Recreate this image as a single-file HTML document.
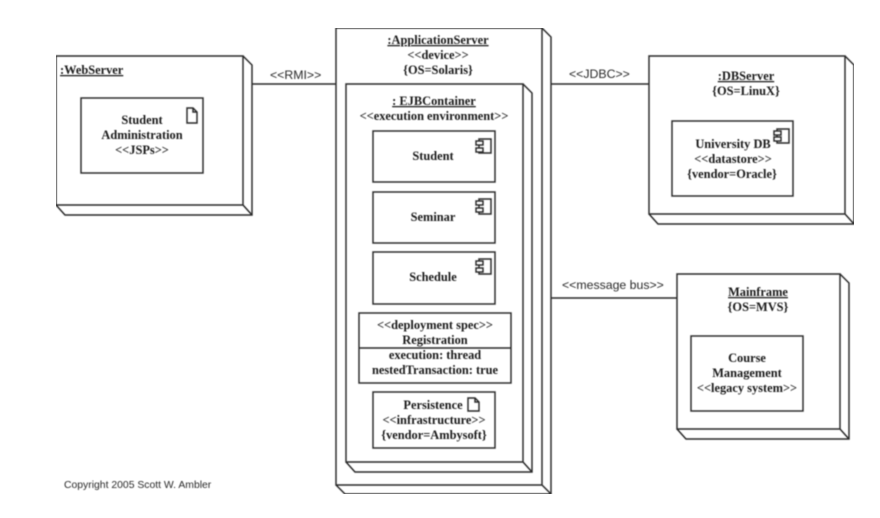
<!DOCTYPE html>
<html><head><meta charset="utf-8"><style>
html,body{margin:0;padding:0;background:#fff;width:880px;height:518px;overflow:hidden}
svg{display:block}
.s{fill:none;stroke:#2a2a2a;stroke-width:1.45}
.t{font-family:"Liberation Serif",serif;font-weight:bold;font-size:12.4px;fill:#1a1a1a;text-anchor:middle}
.a{font-family:"Liberation Sans",sans-serif;font-size:12.3px;fill:#2a2a2a}
</style></head><body>
<svg width="880" height="518" viewBox="0 0 880 518" xmlns="http://www.w3.org/2000/svg">
<defs><filter id="b" x="0" y="0" width="100%" height="100%"><feGaussianBlur stdDeviation="0.4"/></filter></defs>
<g filter="url(#b)">
<!-- connectors -->
<path class="s" d="M252 84H336M551 84H649M551 298H677"/>
<text class="a" x="270" y="79">&lt;&lt;RMI&gt;&gt;</text>
<text class="a" x="569" y="78">&lt;&lt;JDBC&gt;&gt;</text>
<text class="a" x="562" y="289">&lt;&lt;message bus&gt;&gt;</text>

<!-- WebServer -->
<path class="s" d="M56 56H243V205H56ZM243 56L252 65V215H65L56 205M243 205L252 215"/>
<text class="t" x="60" y="74" style="text-anchor:start;text-decoration:underline">:WebServer</text>
<rect class="s" x="81" y="98" width="122" height="75"/>
<path class="s" d="M187 108H193L197 112V123H187ZM193 108V112H197"/>
<text class="t" x="142" y="124">Student</text>
<text class="t" x="142" y="139">Administration</text>
<text class="t" x="142" y="154">&lt;&lt;JSPs&gt;&gt;</text>

<!-- ApplicationServer -->
<path class="s" d="M336 28H542V485H336ZM542 28L551 37V494H345L336 485M542 485L551 494"/>
<text class="t" x="438" y="44" style="text-decoration:underline">:ApplicationServer</text>
<text class="t" x="438" y="59">&lt;&lt;device&gt;&gt;</text>
<text class="t" x="438" y="74">{OS=Solaris}</text>

<!-- EJBContainer -->
<path class="s" d="M346 84H523V462H346ZM523 84L532 93V472H355L346 462M523 462L532 472"/>
<text class="t" x="434" y="105" style="text-decoration:underline">: EJBContainer</text>
<text class="t" x="434" y="120">&lt;&lt;execution environment&gt;&gt;</text>

<!-- Student -->
<rect class="s" x="373" y="131" width="122" height="51"/>
<path class="s" d="M479 141V139H491V153H479V152M479 145V148"/><rect class="s" x="476" y="141" width="7" height="4"/><rect class="s" x="476" y="148" width="7" height="4"/>
<text class="t" x="433" y="160">Student</text>
<!-- Seminar -->
<rect class="s" x="373" y="192" width="122" height="51"/>
<path class="s" d="M479 201V199H491V214H479V212M479 205V208"/><rect class="s" x="476" y="201" width="7" height="4"/><rect class="s" x="476" y="208" width="7" height="4"/>
<text class="t" x="433" y="221">Seminar</text>
<!-- Schedule -->
<rect class="s" x="373" y="252" width="122" height="52"/>
<path class="s" d="M479 261V259H491V274H479V272M479 265V268"/><rect class="s" x="476" y="261" width="7" height="4"/><rect class="s" x="476" y="268" width="7" height="4"/>
<text class="t" x="433" y="281">Schedule</text>
<!-- Deployment spec -->
<rect class="s" x="359" y="313" width="152" height="70"/>
<path class="s" d="M359 348H511"/>
<text class="t" x="435" y="329">&lt;&lt;deployment spec&gt;&gt;</text>
<text class="t" x="435" y="344">Registration</text>
<text class="t" x="435" y="359">execution: thread</text>
<text class="t" x="435" y="374">nestedTransaction: true</text>
<!-- Persistence -->
<rect class="s" x="373" y="392" width="122" height="56"/>
<path class="s" d="M468 398H475L479 402V411H468ZM475 398V402H479"/>
<text class="t" x="433" y="409">Persistence</text>
<text class="t" x="434" y="424">&lt;&lt;infrastructure&gt;&gt;</text>
<text class="t" x="434" y="439">{vendor=Ambysoft}</text>

<!-- DBServer -->
<path class="s" d="M649 56H845V214H649ZM845 56L854 65V224H658L649 214M845 214L854 224"/>
<text class="t" x="746" y="80" style="text-decoration:underline">:DBServer</text>
<text class="t" x="746" y="95">{OS=LinuX}</text>
<rect class="s" x="672" y="121" width="121" height="75"/>
<path class="s" d="M777 131V129H789V143H777V141M777 135V137"/><rect class="s" x="774" y="131" width="7" height="4"/><rect class="s" x="774" y="137" width="7" height="4"/>
<text class="t" x="733" y="148">University DB</text>
<text class="t" x="733" y="163">&lt;&lt;datastore&gt;&gt;</text>
<text class="t" x="732" y="178">{vendor=Oracle}</text>

<!-- Mainframe -->
<path class="s" d="M677 274H840V429H677ZM840 274L849 283V439H686L677 429M840 429L849 439"/>
<text class="t" x="758" y="296" style="text-decoration:underline">Mainframe</text>
<text class="t" x="758" y="311">{OS=MVS}</text>
<rect class="s" x="691" y="336" width="112" height="75"/>
<text class="t" x="747" y="362">Course</text>
<text class="t" x="747" y="377">Management</text>
<text class="t" x="747" y="392">&lt;&lt;legacy system&gt;&gt;</text>

<text class="a" x="64" y="488" style="font-size:10.4px">Copyright 2005 Scott W. Ambler</text>
</g>
</svg>
</body></html>
